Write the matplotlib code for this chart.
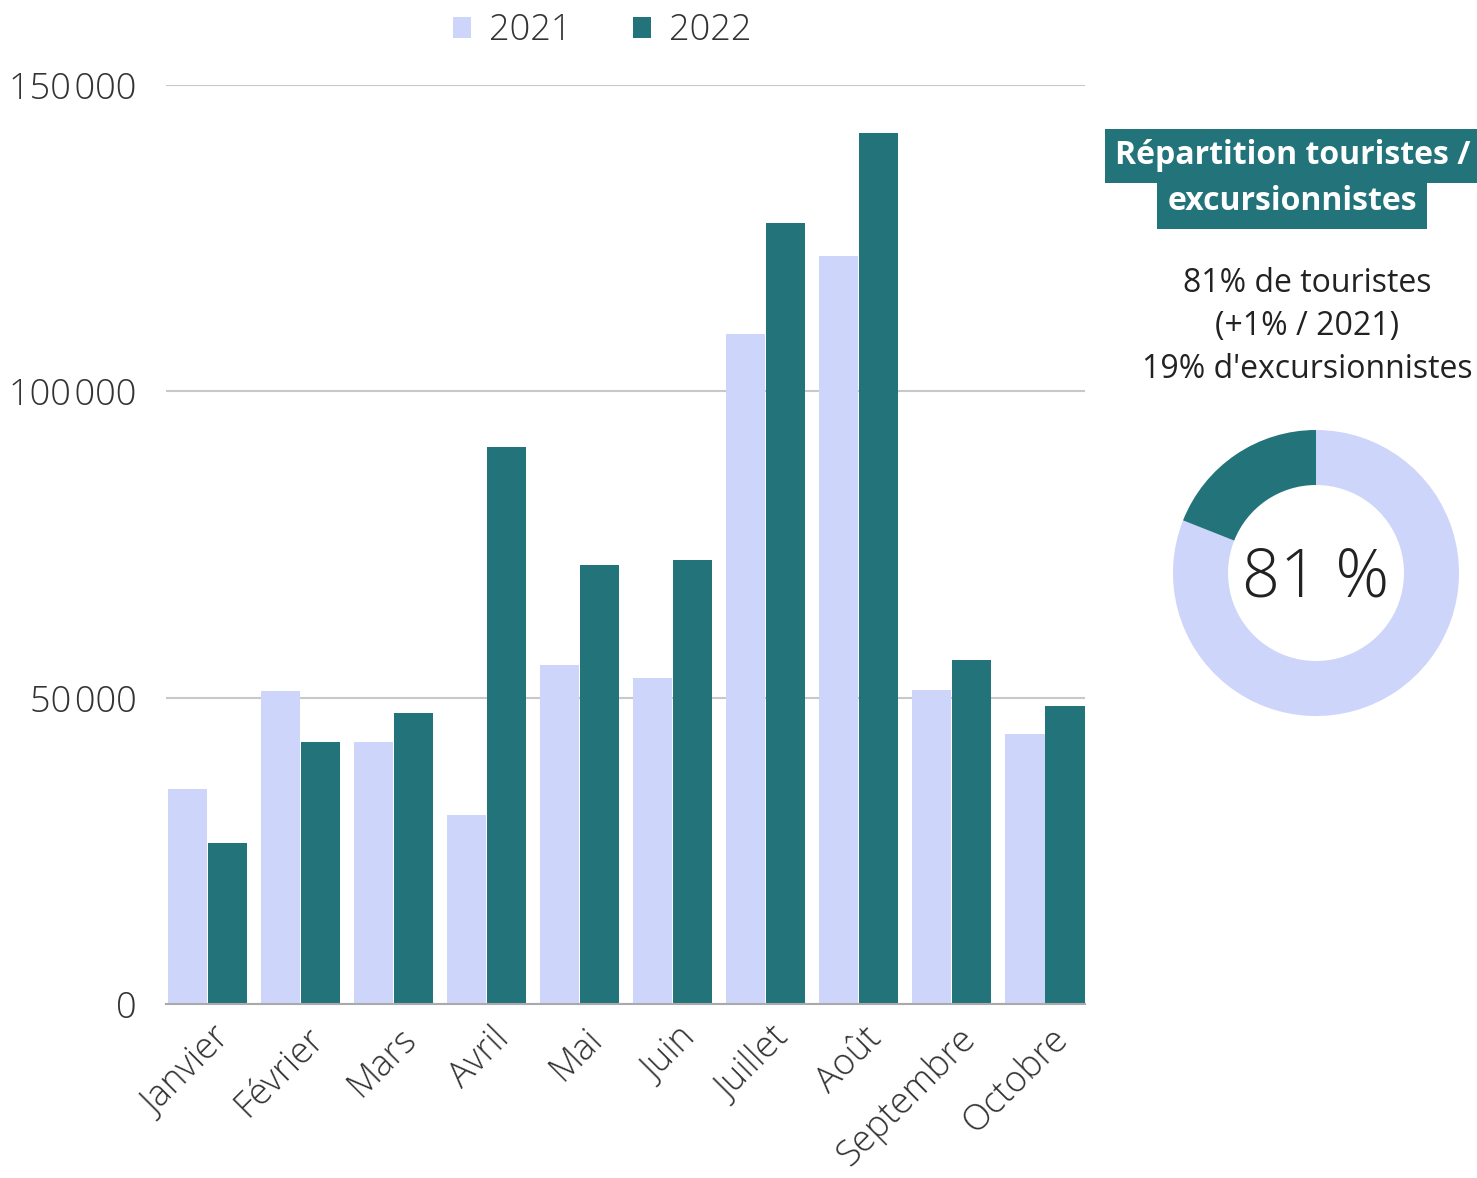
import numpy as np
import matplotlib
matplotlib.use("Agg")
import matplotlib.pyplot as plt

plt.rcParams['font.family'] = ['Open Sans', 'DejaVu Sans']

months = ["Janvier", "Février", "Mars", "Avril", "Mai", "Juin",
          "Juillet", "Août", "Septembre", "Octobre"]
v2021 = [35100, 51100, 42800, 30800, 55300, 53200, 109400, 122100, 51300, 44100]
v2022 = [26300, 42800, 47500, 90900, 71700, 72500, 127500, 142200, 56200, 48700]
yticks = [0, 50000, 100000, 150000]
ytick_labels = ["0", "50\u200a000", "100\u200a000", "150\u200a000"]

share_labels = ["touristes", "excursionnistes"]
share_values = [81, 19]

light = "#CDD5FB"
dark = "#22747A"
txt = "#333333"

fig = plt.figure(figsize=(14.77, 11.78), dpi=100)
ax = fig.add_axes([166 / 1477, 1 - 1004 / 1178, 919 / 1477, 919 / 1178])

x = np.arange(len(months))
w = 0.42
ax.bar(x - 0.215, v2021, w, color=light, label="2021", zorder=2)
ax.bar(x + 0.215, v2022, w, color=dark, label="2022", zorder=2)

ax.set_xlim(-0.445, 9.43)
ax.set_ylim(0, 150000)
ax.set_yticks(yticks)
ax.set_yticklabels(ytick_labels, fontsize=26, color=txt, fontweight="light")
ax.grid(axis="y", color="#C8C8C8", linewidth=1.5, zorder=0)
for s in ["top", "right", "left"]:
    ax.spines[s].set_visible(False)
ax.spines["bottom"].set_color("#AAAAAA")
ax.spines["bottom"].set_linewidth(1.5)
ax.tick_params(axis="y", length=0, pad=21)
ax.tick_params(axis="x", length=0, pad=12)
ax.set_xticks(x + 0.05)
ax.set_xticklabels(months, rotation=45, ha="right", rotation_mode="anchor",
                   fontsize=26, color=txt, fontweight="light")

leg = fig.legend(loc="upper center", bbox_to_anchor=(0.408, 1.017), ncol=2,
                 frameon=False, fontsize=26, handlelength=0.5, handleheight=0.5,
                 columnspacing=1.7, handletextpad=0.5)
for t in leg.get_texts():
    t.set_color(txt)
    t.set_fontweight("light")

# right panel
fig.text(1293 / 1477, 1 - 156 / 1178, "Répartition touristes /", ha="center", va="center",
         fontsize=23, fontweight="bold", color="white",
         bbox=dict(boxstyle="square,pad=0.33", facecolor=dark, edgecolor="none"))
fig.text(1292 / 1477, 1 - 202 / 1178, "excursionnistes", ha="center", va="center",
         fontsize=23, fontweight="bold", color="white",
         bbox=dict(boxstyle="square,pad=0.33", facecolor=dark, edgecolor="none"))
fig.text(1307 / 1477, 1 - 326 / 1178,
         "81% de touristes\n(+1% / 2021)\n19% d'excursionnistes",
         ha="center", va="center", fontsize=23, color="#222222", linespacing=1.4)

pax = fig.add_axes([(1316 - 150) / 1477, 1 - (573 + 150) / 1178, 300 / 1477, 300 / 1178])
pax.pie(share_values, colors=[light, dark], startangle=90, counterclock=False,
        radius=143 / 150, wedgeprops=dict(width=55 / 150, edgecolor="none"))
pax.set_xlim(-1, 1)
pax.set_ylim(-1, 1)
pax.text(0, -0.04, f"{share_values[0]} %", ha="center", va="center", fontsize=48,
         fontweight="light", color="#222222")

fig.savefig("out.png", dpi=100, facecolor="white")
